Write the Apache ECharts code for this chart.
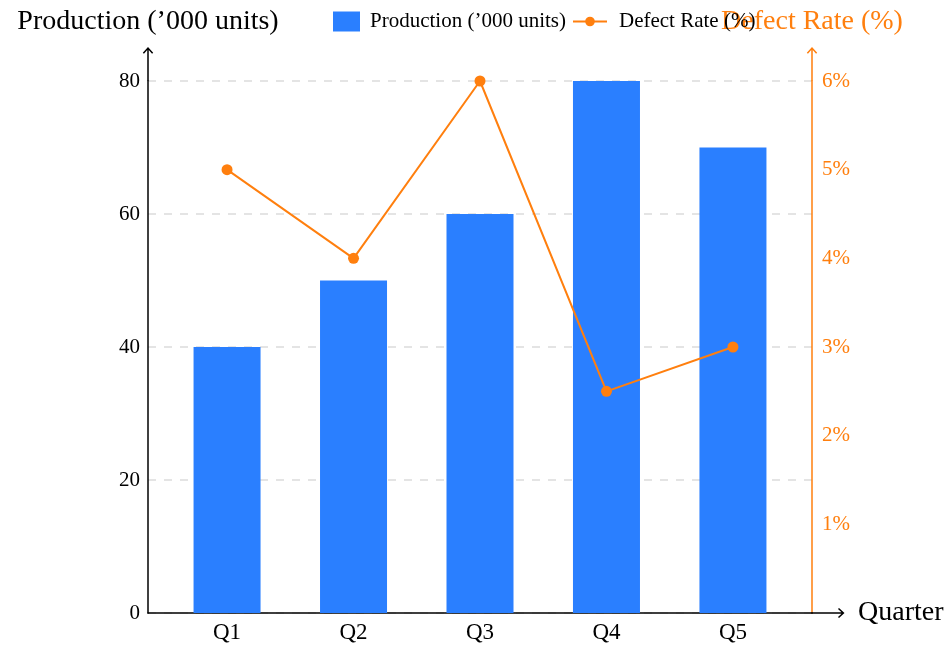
<!DOCTYPE html>
<html>
<head>
<meta charset="utf-8">
<script src="https://cdn.jsdelivr.net/npm/echarts@6/dist/echarts.min.js"></script>
<style>
html,body{margin:0;padding:0;background:#fff;}
#chart{width:951px;height:652px;}
</style>
</head>
<body>
<div id="chart"></div>
<script>
const categories = ['Q1', 'Q2', 'Q3', 'Q4', 'Q5'];
const production = [40, 50, 60, 80, 70];
const defectRate = [5, 4, 6, 2.5, 3];

const FONT = '"Liberation Serif", "Times New Roman", serif';
const BLUE = '#2a7fff';
const ORANGE = '#ff7f0e';
const ARROW = 'path://M5.5,0 L11,6 L9.8,7.1 L6.3,3.3 L6.3,36 L4.7,36 L4.7,3.3 L1.2,7.1 L0,6 Z';
const PROD_NAME = "Production (\u2019000 units)";
const DEF_NAME = 'Defect Rate (%)';

const chart = echarts.init(document.getElementById('chart'), null, {renderer: 'canvas'});

const option = {
  backgroundColor: '#fff',
  textStyle: {fontFamily: FONT},
  legend: [
    {
      left: 328,
      top: 6,
      itemWidth: 27,
      itemHeight: 20,
      textStyle: {fontFamily: FONT, fontSize: 21, color: '#000', padding: [0, 0, 0, 5]},
      data: [{name: PROD_NAME, icon: 'rect'}]
    },
    {
      left: 567,
      top: 6,
      itemWidth: 34,
      itemHeight: 12,
      textStyle: {fontFamily: FONT, fontSize: 21, color: '#000', padding: [0, 0, 0, 7]},
      data: [{name: DEF_NAME}]
    }
  ],
  grid: {left: 148, right: 139, top: 81, bottom: 39, containLabel: false},
  xAxis: {
    type: 'value',
    min: -0.625,
    max: 4.625,
    name: 'Quarter',
    nameLocation: 'end',
    nameGap: 46,
    nameTextStyle: {fontFamily: FONT, fontSize: 28, color: '#000', align: 'left', verticalAlign: 'middle'},
    axisLine: {
      show: true,
      onZero: false,
      lineStyle: {color: '#000', width: 1.5},
      symbol: ['none', ARROW],
      symbolSize: [11, 33],
      symbolOffset: [0, 16]
    },
    axisTick: {show: false},
    splitLine: {show: false},
    axisLabel: {
      customValues: [0, 1, 2, 3, 4],
      formatter: v => categories[Math.round(v)] || '',
      fontFamily: FONT, fontSize: 23, color: '#000', margin: 8
    }
  },
  yAxis: [
    {
      type: 'value',
      min: 0, max: 80, interval: 20,
      position: 'left',
      name: PROD_NAME,
      nameLocation: 'end',
      nameGap: 59,
      nameTextStyle: {fontFamily: FONT, fontSize: 28, color: '#000', align: 'center', verticalAlign: 'middle'},
      axisLine: {
        show: true,
        onZero: false,
        lineStyle: {color: '#000', width: 1.5},
        symbol: ['none', ARROW],
        symbolSize: [11, 34],
        symbolOffset: [0, 17]
      },
      axisTick: {show: false},
      axisLabel: {fontFamily: FONT, fontSize: 21, color: '#000', margin: 8},
      splitLine: {show: true, lineStyle: {color: '#dcdcdc', type: [8, 8], width: 1.5}}
    },
    {
      type: 'value',
      min: 0, max: 6, interval: 1,
      position: 'right',
      name: DEF_NAME,
      nameLocation: 'end',
      nameGap: 59,
      nameTextStyle: {fontFamily: FONT, fontSize: 28, color: ORANGE, align: 'center', verticalAlign: 'middle'},
      axisLine: {
        show: true,
        onZero: false,
        lineStyle: {color: ORANGE, width: 1.5},
        symbol: ['none', ARROW],
        symbolSize: [11, 34],
        symbolOffset: [0, 17]
      },
      axisTick: {show: false},
      axisLabel: {
        fontFamily: FONT, fontSize: 21, color: ORANGE, margin: 10,
        formatter: v => (v === 0 ? '' : v + '%')
      },
      splitLine: {show: false}
    }
  ],
  series: [
    {
      name: PROD_NAME,
      type: 'bar',
      xAxisIndex: 0,
      yAxisIndex: 0,
      barWidth: 67,
      itemStyle: {color: BLUE},
      data: production.map((v, i) => [i, v]),
      z: 2
    },
    {
      name: DEF_NAME,
      type: 'line',
      xAxisIndex: 0,
      yAxisIndex: 1,
      symbol: 'circle',
      symbolSize: 11,
      lineStyle: {color: ORANGE, width: 2},
      itemStyle: {color: ORANGE},
      data: defectRate.map((v, i) => [i, v]),
      z: 3
    }
  ],
  animation: false
};
chart.setOption(option);
</script>
</body>
</html>
